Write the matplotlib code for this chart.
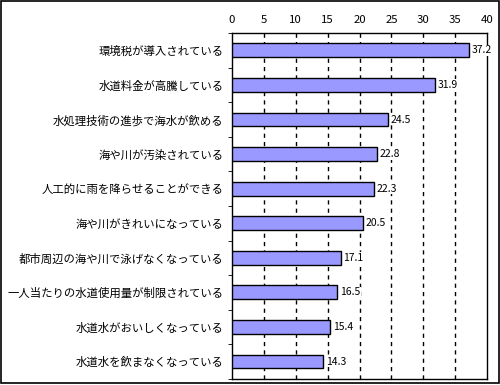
import matplotlib.pyplot as plt
from matplotlib.patches import Rectangle

plt.rcParams['font.family'] = ['Noto Sans CJK JP', 'DejaVu Sans']

# Datos del gráfico
categorias = [
    '環境税が導入されている',
    '水道料金が高騰している',
    '水処理技術の進歩で海水が飲める',
    '海や川が汚染されている',
    '人工的に雨を降らせることができる',
    '海や川がきれいになっている',
    '都市周辺の海や川で泳げなくなっている',
    '一人当たりの水道使用量が制限されている',
    '水道水がおいしくなっている',
    '水道水を飲まなくなっている',
]
valores = [37.2, 31.9, 24.5, 22.8, 22.3, 20.5, 17.1, 16.5, 15.4, 14.3]
xticks = [0, 5, 10, 15, 20, 25, 30, 35, 40]

fig = plt.figure(figsize=(5, 3.85), dpi=100)
ax = fig.add_axes([0.464, 0.016, 0.51, 0.898])

y = list(range(len(categorias)))
ax.barh(y, valores, height=0.4, color='#9999ff', edgecolor='black', linewidth=1, zorder=3)
for yi, v in zip(y, valores):
    ax.text(v + 0.4, yi, '%.1f' % v, va='center', ha='left', fontsize=7.5, zorder=4,
            bbox=dict(facecolor='white', edgecolor='none', pad=0.5))

ax.set_xlim(0, 40)
ax.set_ylim(len(categorias) - 0.5, -0.5)
ax.set_xticks(xticks)
ax.xaxis.tick_top()
ax.tick_params(axis='x', length=0, labelsize=8.2, pad=6)
ax.set_yticks(y)
ax.set_yticklabels(categorias, fontsize=8.2)
ax.tick_params(axis='y', length=0, pad=6)
ax.set_yticks([i + 0.5 for i in range(-1, len(categorias))], minor=True)
ax.tick_params(axis='y', which='minor', length=3, direction='out', color='black')
for xv in xticks[1:-1]:
    ax.axvline(xv, color='black', linestyle=(0, (3, 3)), linewidth=1, zorder=1)
for s in ax.spines.values():
    s.set_linewidth(1)

# Marco exterior
fig.patches.append(Rectangle((0.001, 0.006), 0.997, 0.992, transform=fig.transFigure,
                             fill=False, edgecolor='black', linewidth=1.2))

plt.savefig('out.png', dpi=100)
